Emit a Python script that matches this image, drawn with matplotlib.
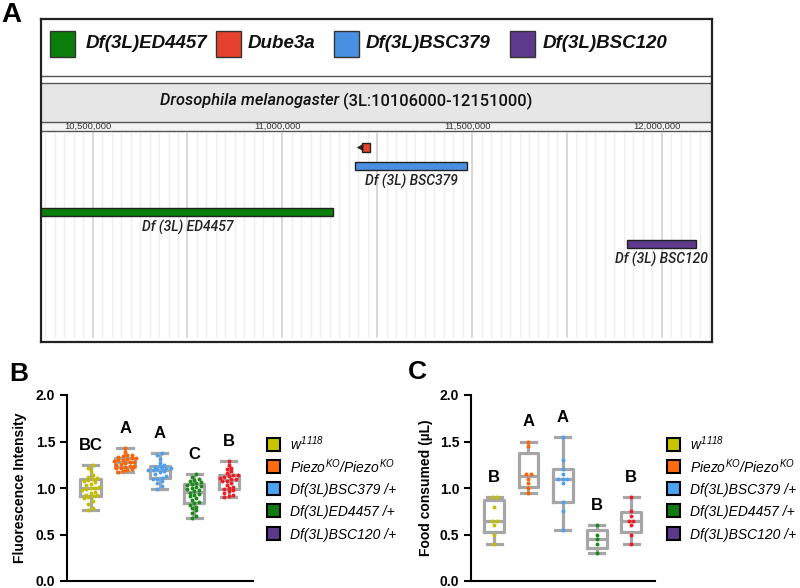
import numpy as np
import matplotlib.pyplot as plt
from matplotlib.patches import Rectangle

plt.rcParams['font.family'] = ['Liberation Sans', 'DejaVu Sans']
plt.rcParams['mathtext.fontset'] = 'custom'
plt.rcParams['mathtext.rm'] = 'Liberation Sans:italic'
plt.rcParams['mathtext.it'] = 'Liberation Sans:italic'
plt.rcParams['mathtext.bf'] = 'Liberation Sans:bold'

W, H = 800, 588

# panel A : deficiencies on 3L (bp)
feat_names = ['Df(3L)ED4457', 'Dube3a', 'Df(3L)BSC379', 'Df(3L)BSC120']
feat_labels = ['Df (3L) ED4457', '', 'Df (3L) BSC379', 'Df (3L) BSC120']
feat_start = [10365000, 11210000, 11192000, 11908000]
feat_end = [11134000, 11232000, 11487000, 12090000]
feat_colors = ['#0b7d0b', '#e4412f', '#4a90e2', '#5e3a8c']
ruler_ticks = [10500000, 11000000, 11500000, 12000000]
view_start, view_end = 10364000, 12127000

# panels B and C
genotypes = [r'$w^{1118}$', r'$Piezo^{KO}/Piezo^{KO}$',
             'Df(3L)BSC379 /+', 'Df(3L)ED4457 /+', 'Df(3L)BSC120 /+']
legend_colors = ['#c8c400', '#ff6a13', '#4aa3f0', '#0f7a0f', '#5b3a8c']
dot_colors = ['#c4bd00', '#ff6200', '#4da0f0', '#1c8a1c', '#ee1c24']

fluo_w1118 = [0.76, 0.78, 0.83, 0.86, 0.89, 0.90, 0.91, 0.92, 0.93, 0.95, 0.96, 0.98, 0.99, 1.00,
              1.00, 1.01, 1.03, 1.04, 1.06, 1.08, 1.09, 1.10, 1.11, 1.12, 1.14, 1.18, 1.22, 1.25]
fluo_piezo = [1.17, 1.18, 1.19, 1.20, 1.21, 1.22, 1.23, 1.24, 1.24, 1.25, 1.26, 1.27, 1.28,
              1.28, 1.29, 1.30, 1.30, 1.31, 1.32, 1.32, 1.33, 1.34, 1.35, 1.36, 1.39, 1.43]
fluo_bsc379 = [0.99, 1.02, 1.05, 1.08, 1.10, 1.10, 1.11, 1.13, 1.15, 1.17, 1.18, 1.19,
               1.19, 1.20, 1.21, 1.22, 1.22, 1.23, 1.24, 1.25, 1.27, 1.31, 1.35, 1.38]
fluo_ed4457 = [0.68, 0.70, 0.73, 0.76, 0.78, 0.80, 0.82, 0.84, 0.85, 0.87, 0.89, 0.91, 0.93, 0.94, 0.95,
               0.97, 0.98, 0.99, 1.00, 1.01, 1.02, 1.03, 1.04, 1.05, 1.06, 1.08, 1.09, 1.10, 1.12, 1.15]
fluo_bsc120 = [0.90, 0.91, 0.93, 0.95, 0.97, 0.98, 0.99, 1.00, 1.01, 1.03, 1.05, 1.07, 1.08,
               1.10, 1.10, 1.11, 1.12, 1.13, 1.14, 1.14, 1.16, 1.18, 1.20, 1.22, 1.25, 1.29]
fluo_letters = ['BC', 'A', 'A', 'C', 'B']

food_w1118 = [0.40, 0.50, 0.60, 0.65, 0.65, 0.80, 0.90, 0.90]
food_piezo = [0.95, 1.00, 1.05, 1.10, 1.15, 1.15, 1.45, 1.50]
food_bsc379 = [0.55, 0.75, 0.85, 1.05, 1.10, 1.10, 1.10, 1.15, 1.20, 1.30, 1.55]
food_ed4457 = [0.30, 0.40, 0.45, 0.50, 0.60]
food_bsc120 = [0.40, 0.50, 0.60, 0.65, 0.65, 0.70, 0.75, 0.90]
food_letters = ['B', 'A', 'A', 'B', 'B']


def px_rect(left, top, width, height):
    return [left / W, 1 - (top + height) / H, width / W, height / H]


def swarm(vals, tol, dx):
    v = np.sort(np.asarray(vals, dtype=float))
    xs = np.zeros(len(v))
    i = 0
    while i < len(v):
        j = i
        while j + 1 < len(v) and v[j + 1] - v[i] < tol:
            j += 1
        k = j - i + 1
        xs[i:j + 1] = (np.arange(k) - (k - 1) / 2) * dx
        i = j + 1
    return v, xs


fig = plt.figure(figsize=(8, 5.88), dpi=100)

# ---------- panel A ----------
fx0, fx1, fy0, fy1 = 40.5, 712, 19.3, 341.7
frame = fig.add_axes(px_rect(fx0, fy0, fx1 - fx0, fy1 - fy0))
frame.set_xlim(fx0, fx1)
frame.set_ylim(fy1, fy0)
frame.set_xticks([])
frame.set_yticks([])
for s in frame.spines.values():
    s.set_linewidth(1.6)
    s.set_color('#222222')
frame.hlines([76, 83], fx0, fx1, color='#555555', lw=1)
frame.add_patch(Rectangle((fx0, 84), fx1 - fx0, 38, fc='#e6e6e6', ec='none'))
frame.add_patch(Rectangle((fx0, 122), fx1 - fx0, 9, fc='#f3f3f3', ec='none'))
frame.hlines([122, 131], fx0, fx1, color='#555555', lw=1)
frame.text(339, 101, 'Drosophila melanogaster', style='italic', fontsize=11.8, weight='medium',
           family=['Roboto', 'DejaVu Sans'], ha='right', va='center', color='#111111')
frame.text(343, 101, '(3L:10106000-12151000)', fontsize=11.8, weight='medium',
           family=['Roboto', 'DejaVu Sans'], ha='left', va='center', color='#111111')

sq_x = [50, 216, 334, 510]
txt_x = [86, 248, 366, 543]
for name, c, sx, tx in zip(feat_names, feat_colors, sq_x, txt_x):
    frame.add_patch(Rectangle((sx, 31), 25, 26, fc=c, ec='#333333', lw=1))
    frame.text(tx, 44, name, fontsize=13.5, weight='bold', style='italic',
               ha='left', va='center', color='#111111')

ruler = fig.add_axes(px_rect(41, 122, 669, 9))
ruler.set_xlim(view_start, view_end)
ruler.set_ylim(0, 1)
ruler.axis('off')
for t in ruler_ticks:
    ruler.text(t - 12000, 0.5, f'{t:,}', fontsize=6.8, ha='center', va='center', color='#333333')

gen = fig.add_axes(px_rect(41, 131, 669, 207))
gen.set_facecolor('none')
gen.set_xlim(view_start, view_end)
gen.set_ylim(207, 0)
gen.axis('off')
minor = np.arange(10375000, view_end, 25000)
for m in minor:
    major = m % 250000 == 0
    gen.axvline(m, ymin=0.005, ymax=0.99, color='#cdcdcd' if major else '#eeeeee',
                lw=1.1 if major else 1, zorder=0)

lane_y = [81, 16.5, 35, 113]
bar_h = [8, 9, 8, 8]
for s, e, c, y, h, lab in zip(feat_start, feat_end, feat_colors, lane_y, bar_h, feat_labels):
    gen.add_patch(Rectangle((s, y - h / 2), e - s, h, fc=c, ec='#222222', lw=1, zorder=3))
    if lab:
        gen.text((s + e) / 2, y + 15, lab, fontsize=10, weight='medium', style='italic',
                 family=['Roboto', 'DejaVu Sans'], ha='center', va='center', color='#222222')
bp_per_px = (view_end - view_start) / 669
gen.annotate('', xy=(feat_start[1] - 8 * bp_per_px, lane_y[1]), xytext=(feat_start[1], lane_y[1]),
             arrowprops=dict(arrowstyle='-|>,head_length=0.35,head_width=0.2', color='#222222', lw=0.8))

# ---------- panels B and C ----------
def box_panel(rect, groups, letters, ylabel, tol, dx):
    ax = fig.add_axes(rect)
    stats = []
    for g in groups:
        q1, med, q3 = np.percentile(g, [25, 50, 75], method='weibull')
        stats.append(dict(med=med, q1=q1, q3=q3, whislo=min(g), whishi=max(g), fliers=[]))
    gray = '#a6a6a6'
    ax.bxp(stats, positions=range(5), widths=0.58, capwidths=0.44, showfliers=False,
           patch_artist=False,
           boxprops=dict(color=gray, lw=2.3), whiskerprops=dict(color=gray, lw=2.3),
           capprops=dict(color=gray, lw=2.3), medianprops=dict(color=gray, lw=2.3))
    for i, g in enumerate(groups):
        v, xs = swarm(g, tol, dx)
        ax.scatter(i + xs, v, s=8, color=dot_colors[i], zorder=4, linewidths=0)
        ax.text(i, max(g) + 0.21, letters[i], fontsize=12, weight='bold', ha='center', va='center')
    ax.set_ylim(0, 2)
    ax.set_xlim(-0.68, 4.7)
    ax.set_yticks([0, 0.5, 1.0, 1.5, 2.0])
    ax.set_yticklabels(['0.0', '0.5', '1.0', '1.5', '2.0'], fontweight='bold')
    ax.set_xticks([])
    ax.spines['top'].set_visible(False)
    ax.spines['right'].set_visible(False)
    ax.spines['left'].set_linewidth(1.5)
    ax.spines['bottom'].set_linewidth(1.5)
    ax.tick_params(axis='y', length=5, width=1.5, labelsize=10)
    ax.set_ylabel(ylabel, fontsize=10, fontweight='bold')
    return ax


axB = box_panel(px_rect(67, 395, 186, 186),
                [fluo_w1118, fluo_piezo, fluo_bsc379, fluo_ed4457, fluo_bsc120],
                fluo_letters, 'Fluorescence Intensity', 0.035, 0.13)
axB.yaxis.set_label_coords(-0.215, 0.5)
axC = box_panel(px_rect(471, 395, 184, 186),
                [food_w1118, food_piezo, food_bsc379, food_ed4457, food_bsc120],
                food_letters, 'Food consumed (µL)', 0.03, 0.14)
axC.yaxis.set_label_coords(-0.207, 0.5)

# genotype keys, one per panel, rows evenly spaced
for x0 in (267, 667):
    for i, (lab, c) in enumerate(zip(genotypes, legend_colors)):
        yc = 444 + i * 22.3
        fig.patches.append(Rectangle((x0 / W, 1 - (yc + 6.5) / H), 13 / W, 13 / H, fc=c,
                                     ec='black', lw=1.5, transform=fig.transFigure, figure=fig))
        fig.text((x0 + 23) / W, 1 - yc / H, lab, fontsize=10, style='italic',
                 ha='left', va='center_baseline' if i > 1 else 'center')

fig.text(11 / W, 1 - 15 / H, 'A', fontsize=20, weight='bold', ha='center', va='center')
fig.text(19 / W, 1 - 374 / H, 'B', fontsize=19, weight='bold', ha='center', va='center')
fig.text(417 / W, 1 - 372 / H, 'C', fontsize=19, weight='bold', ha='center', va='center')

fig.savefig('out.png', dpi=100)
